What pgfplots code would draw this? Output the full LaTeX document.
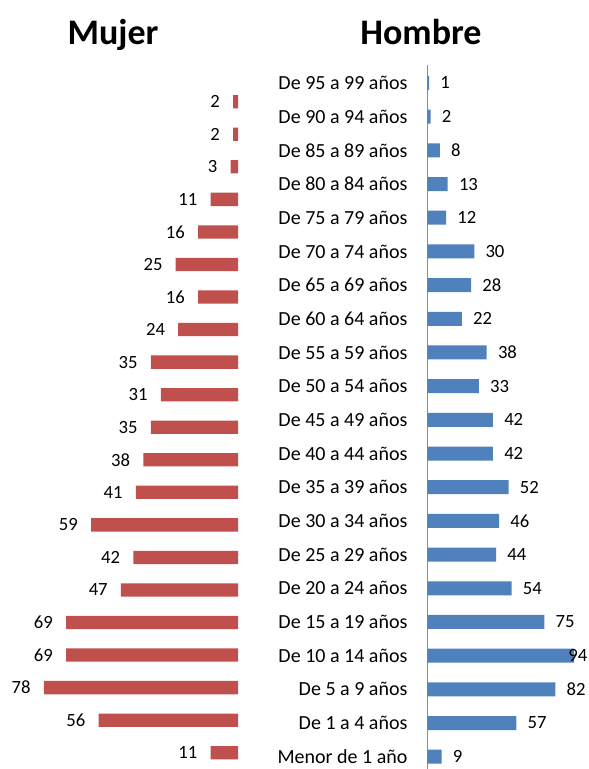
\documentclass[border=0pt]{standalone}
\usepackage{pgfplots}
\pgfplotsset{compat=1.18}
\usepackage{fontspec}
\setmainfont{Carlito}
\definecolor{mred}{HTML}{C0504D}
\definecolor{mblue}{HTML}{4F81BD}
\definecolor{axgray}{HTML}{8C8C8C}
\begin{document}
\begin{tikzpicture}
\useasboundingbox (0,0) rectangle (441.75pt,576.75pt);
\node[font=\bfseries\fontsize{27}{30}\selectfont, anchor=base] at (84.75pt,543.5pt) {Mujer};
\node[font=\bfseries\fontsize{27}{30}\selectfont, anchor=base] at (315.75pt,543.5pt) {Hombre};
\begin{axis}[at={(15pt,0pt)}, anchor=south west, scale only axis,
  width=163.5pt, height=512.66pt,
  xmin=0, xmax=87.55, ymin=-0.5, ymax=20.5, x dir=reverse,
  hide axis, xbar, bar width=10pt,
  /pgf/number format/assume math mode=true,
  nodes near coords,
  every node near coord/.append style={anchor=east, inner sep=0pt, xshift=-9.75pt, font=\fontsize{14}{16}\selectfont, text=black}]
\addplot[fill=mred, draw=none] coordinates {(11,0) (56,1) (78,2) (69,3) (69,4) (47,5) (42,6) (59,7) (41,8) (38,9) (35,10) (31,11) (35,12) (24,13) (16,14) (25,15) (16,16) (11,17) (3,18) (2,19) (2,20)};
\end{axis}
\begin{axis}[at={(320.6pt,0pt)}, anchor=south west, scale only axis,
  width=121.1pt, height=528pt,
  xmin=0, xmax=103.5, ymin=-0.365, ymax=20.534,
  axis x line=none, axis y line*=left,
  y axis line style={axgray, line width=0.9pt},
  ytick={0,...,20},
  yticklabels={Menor de 1 año, De 1 a 4 años, De 5 a 9 años, De 10 a 14 años, De 15 a 19 años, De 20 a 24 años, De 25 a 29 años, De 30 a 34 años, De 35 a 39 años, De 40 a 44 años, De 45 a 49 años, De 50 a 54 años, De 55 a 59 años, De 60 a 64 años, De 65 a 69 años, De 70 a 74 años, De 75 a 79 años, De 80 a 84 años, De 85 a 89 años, De 90 a 94 años, De 95 a 99 años},
  major tick length=0pt,
  yticklabel style={font=\fontsize{15}{17}\selectfont, anchor=east, inner sep=0pt, xshift=-14.85pt},
  xbar, bar width=10.5pt,
  /pgf/number format/assume math mode=true,
  nodes near coords,
  visualization depends on={x \as \rawx},
  every node near coord/.append style={anchor=west, inner sep=0pt, xshift={ifthenelse(\rawx>90,-4.5,8.25)}, font=\fontsize{14}{16}\selectfont, text=black}]
\addplot[fill=mblue, draw=none] coordinates {(9,0) (57,1) (82,2) (94,3) (75,4) (54,5) (44,6) (46,7) (52,8) (42,9) (42,10) (33,11) (38,12) (22,13) (28,14) (30,15) (12,16) (13,17) (8,18) (2,19) (1,20)};
\end{axis}
\end{tikzpicture}
\end{document}
